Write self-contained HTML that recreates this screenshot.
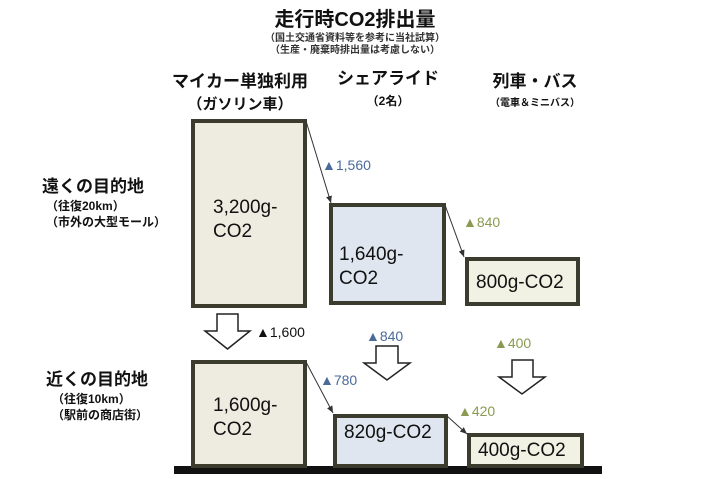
<!DOCTYPE html>
<html><head><meta charset="utf-8"><style>
html,body{margin:0;padding:0;background:#fff}
svg text{font-family:"Liberation Sans","Noto Sans CJK JP",sans-serif}
</style></head><body>
<svg width="710" height="474" viewBox="0 0 710 474" xmlns="http://www.w3.org/2000/svg">
<defs><marker id="ah" markerWidth="8" markerHeight="8" refX="7" refY="4" orient="auto" markerUnits="userSpaceOnUse"><path d="M0,1 L7,4 L0,7 z" fill="#333"/></marker></defs>
<g font-weight="bold" fill="#111">
<text x="355" y="26" font-size="20" text-anchor="middle">走行時CO2排出量</text>
<text x="355" y="41" font-size="10" text-anchor="middle" fill="#333">（国土交通省資料等を参考に当社試算）</text>
<text x="355" y="53" font-size="10" text-anchor="middle" fill="#333">（生産・廃棄時排出量は考慮しない）</text>
<text x="240" y="87" font-size="17" text-anchor="middle">マイカー単独利用</text>
<text x="240" y="109" font-size="15" text-anchor="middle">（ガソリン車）</text>
<text x="388" y="84" font-size="17" text-anchor="middle">シェアライド</text>
<text x="388" y="105" font-size="12" text-anchor="middle">（2名）</text>
<text x="535" y="87" font-size="17" text-anchor="middle">列車・バス</text>
<text x="535" y="106" font-size="10" text-anchor="middle">（電車＆ミニバス）</text>
<text x="42" y="192" font-size="17">遠くの目的地</text>
<text x="46" y="210" font-size="12">（往復20km）</text>
<text x="46" y="226" font-size="12">（市外の大型モール）</text>
<text x="46" y="385" font-size="17">近くの目的地</text>
<text x="52" y="403" font-size="12">（往復10km）</text>
<text x="52" y="419" font-size="12">（駅前の商店街）</text>
</g>
<rect x="174" y="466" width="428" height="8" fill="#111"/>
<g stroke="#3b3b2e" stroke-width="4">
<rect x="193" y="121" width="112" height="185" fill="#eeebe0"/>
<rect x="331" y="205" width="113" height="98" fill="#dfe6ef"/>
<rect x="467" y="259" width="111" height="45" fill="#f1f2e4"/>
<rect x="193" y="362" width="112" height="104" fill="#eeebe0"/>
<rect x="335" y="416" width="111" height="50" fill="#dfe6ef"/>
<rect x="469" y="435" width="113" height="31" fill="#f1f2e4"/>
</g>
<g fill="#111" font-size="19">
<text x="213" y="213">3,200g-</text><text x="213" y="237">CO2</text>
<text x="339" y="260">1,640g-</text><text x="339" y="284">CO2</text>
<text x="476" y="288">800g-CO2</text>
<text x="213" y="411">1,600g-</text><text x="213" y="435">CO2</text>
<text x="344" y="438">820g-CO2</text>
<text x="478" y="456">400g-CO2</text>
</g>
<g stroke="#333" stroke-width="1" marker-end="url(#ah)">
<line x1="306" y1="121" x2="331" y2="203"/>
<line x1="445" y1="205" x2="464" y2="257"/>
<line x1="306" y1="362" x2="333" y2="413"/>
<line x1="447" y1="416" x2="467" y2="434"/>
</g>
<g fill="#fff" stroke="#222" stroke-width="1.5">
<path d="M217,314 H238 V331 H250 L227.5,349 L205,331 H217 Z"/>
<path d="M376,346 H398 V363 H410 L387,380 L364,363 H376 Z"/>
<path d="M512,360 H533 V377 H545 L522,394 L499,377 H512 Z"/>
</g>
<g font-size="14">
<text x="322" y="170" fill="#4a6a9a">▲1,560</text>
<text x="463" y="227" fill="#8a9a50">▲840</text>
<text x="256" y="337" fill="#111">▲1,600</text>
<text x="366" y="341" fill="#4a6a9a">▲840</text>
<text x="494" y="348" fill="#8a9a50">▲400</text>
<text x="320" y="385" fill="#4a6a9a">▲780</text>
<text x="458" y="416" fill="#8a9a50">▲420</text>
</g>
</svg>
</body></html>
